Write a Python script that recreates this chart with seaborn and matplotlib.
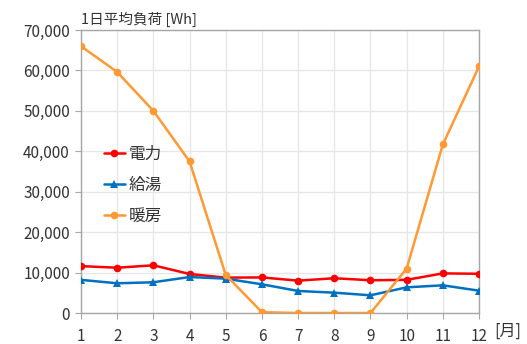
import matplotlib
matplotlib.use("Agg")
import matplotlib.pyplot as plt
import seaborn as sns
import pandas as pd
from matplotlib.ticker import FuncFormatter

months = list(range(1, 13))
denryoku = [11600, 11200, 11800, 9650, 8750, 8800, 8000, 8600, 8100, 8200, 9800, 9700]
kyuto = [8200, 7350, 7600, 8900, 8500, 7100, 5450, 5030, 4380, 6350, 6850, 5520]
danbo = [66000, 59600, 50000, 37500, 9400, 200, 0, 0, 0, 11000, 41700, 61000]
series_names = ["電力", "給湯", "暖房"]

sns.set_theme(style="white")
plt.rcParams['font.family'] = ['Noto Sans CJK JP', 'DejaVu Sans']

df = pd.DataFrame({
    "month": months * 3,
    "value": denryoku + kyuto + danbo,
    "series": [series_names[0]] * 12 + [series_names[1]] * 12 + [series_names[2]] * 12,
})

fig = plt.figure(figsize=(5.27, 3.44), dpi=100)
ax = fig.add_axes([0.1537, 0.0901, 0.7553, 0.8227])

palette = {"電力": "#FF0000", "給湯": "#0070C0", "暖房": "#FF9933"}
markers = {"電力": "o", "給湯": "^", "暖房": "o"}
sns.lineplot(data=df, x="month", y="value", hue="series", style="series",
             palette=palette, markers=markers, dashes=False, linewidth=1.8,
             markersize=5.5, markeredgewidth=0, ax=ax, zorder=3)

ax.set_xlim(1, 12)
ax.set_ylim(0, 70000)
ax.set_xticks(months)
ax.set_yticks(range(0, 70001, 10000))
ax.yaxis.set_major_formatter(FuncFormatter(lambda v, p: f"{int(v):,}"))
ax.grid(True, color="#E6E6E6", linewidth=0.9)
ax.set_axisbelow(True)
for s in ax.spines.values():
    s.set_color("#A6A6A6")
    s.set_linewidth(1.0)
ax.tick_params(axis="both", labelsize=11, colors="#404040", length=4, width=0.8,
               direction="out", left=True, bottom=True, color="#A6A6A6")
ax.tick_params(axis="x", pad=7)
ax.tick_params(axis="y", pad=4)
for lbl in ax.get_xticklabels() + ax.get_yticklabels():
    lbl.set_color("#333333")
ax.set_xlabel("")
ax.set_ylabel("")

ax.text(0.0, 1.01, "1日平均負荷 [Wh]", transform=ax.transAxes, fontsize=10.5,
        color="#333333", ha="left", va="bottom")
fig.text(0.963, 0.012, "[月]", fontsize=11.5, color="#333333", ha="center", va="bottom")

leg = ax.legend(loc="upper left", bbox_to_anchor=(0.04, 0.615), frameon=False,
                fontsize=12, handlelength=1.3, handletextpad=0.2, labelspacing=0.85,
                borderaxespad=0)
for t in leg.get_texts():
    t.set_color("#333333")

fig.savefig("out.png", dpi=100)
